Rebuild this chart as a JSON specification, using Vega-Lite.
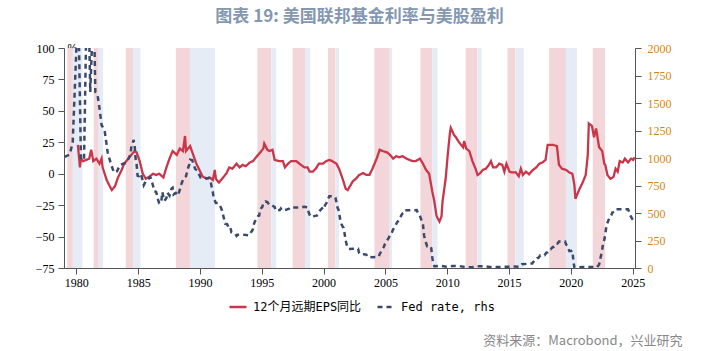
{
 "$schema": "https://vega.github.io/schema/vega-lite/v6.json",
 "width": 571, "height": 220,
 "autosize": {"type": "none"},
 "padding": {"left": 64, "top": 48, "right": 84, "bottom": 83},
 "background": "white",
 "title": {"text": "图表 19: 美国联邦基金利率与美股盈利", "font": "Noto Sans CJK SC", "fontSize": 17, "fontWeight": "bold", "color": "#8497b0", "anchor": "middle", "frame": "group", "dx": 10, "offset": 16},
 "config": {"view": {"stroke": null}, "axis": {"grid": false, "domainColor": "#555", "tickColor": "#555", "labelFont": "Liberation Serif", "labelFontSize": 12, "labelColor": "#000", "tickSize": 6}},
 "datasets": {
  "bands": [
   {"start": "1979-04-08", "end": "1979-09-20", "kind": "hike"},
   {"start": "1979-09-20", "end": "1980-06-28", "kind": "cut"},
   {"start": "1981-05-26", "end": "1981-10-23", "kind": "hike"},
   {"start": "1981-10-23", "end": "1982-03-01", "kind": "cut"},
   {"start": "1984-01-01", "end": "1984-08-04", "kind": "hike"},
   {"start": "1984-08-04", "end": "1985-03-10", "kind": "cut"},
   {"start": "1988-01-20", "end": "1989-03-10", "kind": "hike"},
   {"start": "1989-03-10", "end": "1991-03-18", "kind": "cut"},
   {"start": "1994-08-25", "end": "1995-10-05", "kind": "hike"},
   {"start": "1995-10-05", "end": "1996-03-01", "kind": "cut"},
   {"start": "1997-06-28", "end": "1998-07-08", "kind": "hike"},
   {"start": "1998-07-08", "end": "1998-12-01", "kind": "cut"},
   {"start": "2000-05-10", "end": "2000-12-13", "kind": "hike"},
   {"start": "2000-12-13", "end": "2001-04-01", "kind": "cut"},
   {"start": "2004-02-10", "end": "2005-05-08", "kind": "hike"},
   {"start": "2005-05-08", "end": "2005-07-20", "kind": "cut"},
   {"start": "2007-11-01", "end": "2008-10-15", "kind": "hike"},
   {"start": "2008-10-15", "end": "2009-03-20", "kind": "cut"},
   {"start": "2011-06-28", "end": "2012-06-10", "kind": "hike"},
   {"start": "2012-06-10", "end": "2012-10-15", "kind": "cut"},
   {"start": "2014-11-15", "end": "2015-07-08", "kind": "hike"},
   {"start": "2015-07-08", "end": "2016-03-10", "kind": "cut"},
   {"start": "2018-04-01", "end": "2019-08-08", "kind": "hike"},
   {"start": "2019-08-08", "end": "2020-06-28", "kind": "cut"},
   {"start": "2021-10-08", "end": "2022-10-08", "kind": "hike"}
  ],
  "lines": [
   {"date":"1980-02-15","series":"EPS","value":23},{"date":"1980-04-15","series":"EPS","value":5},{"date":"1980-05-15","series":"EPS","value":12},{"date":"1980-07-15","series":"EPS","value":10},{"date":"1980-10-15","series":"EPS","value":11},{"date":"1981-01-15","series":"EPS","value":12},{"date":"1981-03-15","series":"EPS","value":19},{"date":"1981-05-15","series":"EPS","value":10},{"date":"1981-08-15","series":"EPS","value":12},{"date":"1981-11-15","series":"EPS","value":8},{"date":"1982-01-15","series":"EPS","value":12},{"date":"1982-02-15","series":"EPS","value":5},{"date":"1982-06-15","series":"EPS","value":-5},{"date":"1982-09-15","series":"EPS","value":-10},{"date":"1982-11-15","series":"EPS","value":-13},{"date":"1983-02-15","series":"EPS","value":-10},{"date":"1983-05-15","series":"EPS","value":-3},{"date":"1983-08-15","series":"EPS","value":2},{"date":"1983-11-15","series":"EPS","value":8},{"date":"1984-03-15","series":"EPS","value":12},{"date":"1984-06-15","series":"EPS","value":15},{"date":"1984-09-15","series":"EPS","value":18},{"date":"1984-11-15","series":"EPS","value":17},{"date":"1985-02-15","series":"EPS","value":10},{"date":"1985-05-15","series":"EPS","value":0},{"date":"1985-08-15","series":"EPS","value":-4},{"date":"1985-12-15","series":"EPS","value":-2},{"date":"1986-03-15","series":"EPS","value":0},{"date":"1986-06-15","series":"EPS","value":-1},{"date":"1986-09-15","series":"EPS","value":0},{"date":"1987-01-15","series":"EPS","value":-3},{"date":"1987-04-15","series":"EPS","value":5},{"date":"1987-07-15","series":"EPS","value":12},{"date":"1987-10-15","series":"EPS","value":18},{"date":"1988-02-15","series":"EPS","value":15},{"date":"1988-05-15","series":"EPS","value":20},{"date":"1988-08-15","series":"EPS","value":18},{"date":"1988-10-15","series":"EPS","value":30},{"date":"1988-11-15","series":"EPS","value":18},{"date":"1989-03-15","series":"EPS","value":22},{"date":"1989-06-15","series":"EPS","value":15},{"date":"1989-09-15","series":"EPS","value":8},{"date":"1989-12-15","series":"EPS","value":3},{"date":"1990-03-15","series":"EPS","value":-2},{"date":"1990-07-15","series":"EPS","value":-4},{"date":"1990-10-15","series":"EPS","value":-3},{"date":"1991-01-15","series":"EPS","value":-5},{"date":"1991-03-15","series":"EPS","value":3},{"date":"1991-04-15","series":"EPS","value":-4},{"date":"1991-07-15","series":"EPS","value":-7},{"date":"1991-11-15","series":"EPS","value":-3},{"date":"1992-02-15","series":"EPS","value":0},{"date":"1992-05-15","series":"EPS","value":5},{"date":"1992-08-15","series":"EPS","value":4},{"date":"1992-12-15","series":"EPS","value":8},{"date":"1993-03-15","series":"EPS","value":5},{"date":"1993-06-15","series":"EPS","value":7},{"date":"1993-09-15","series":"EPS","value":6},{"date":"1994-01-15","series":"EPS","value":9},{"date":"1994-04-15","series":"EPS","value":10},{"date":"1994-07-15","series":"EPS","value":13},{"date":"1994-10-15","series":"EPS","value":16},{"date":"1995-02-15","series":"EPS","value":20},{"date":"1995-03-15","series":"EPS","value":24},{"date":"1995-06-15","series":"EPS","value":19},{"date":"1995-08-15","series":"EPS","value":18},{"date":"1995-11-15","series":"EPS","value":19},{"date":"1996-01-15","series":"EPS","value":11},{"date":"1996-06-15","series":"EPS","value":10},{"date":"1996-09-15","series":"EPS","value":10},{"date":"1996-11-15","series":"EPS","value":5},{"date":"1997-02-15","series":"EPS","value":8},{"date":"1997-05-15","series":"EPS","value":10},{"date":"1997-10-15","series":"EPS","value":10},{"date":"1998-01-15","series":"EPS","value":8},{"date":"1998-06-15","series":"EPS","value":5},{"date":"1998-09-15","series":"EPS","value":5},{"date":"1998-11-15","series":"EPS","value":1.6},{"date":"1999-02-15","series":"EPS","value":1.6},{"date":"1999-05-15","series":"EPS","value":4},{"date":"1999-08-15","series":"EPS","value":8},{"date":"1999-12-15","series":"EPS","value":8},{"date":"2000-03-15","series":"EPS","value":10},{"date":"2000-06-15","series":"EPS","value":11},{"date":"2000-09-15","series":"EPS","value":10},{"date":"2001-01-15","series":"EPS","value":8},{"date":"2001-04-15","series":"EPS","value":3},{"date":"2001-07-15","series":"EPS","value":-4},{"date":"2001-10-15","series":"EPS","value":-12},{"date":"2001-12-15","series":"EPS","value":-13},{"date":"2002-02-15","series":"EPS","value":-10},{"date":"2002-05-15","series":"EPS","value":-6},{"date":"2002-08-15","series":"EPS","value":-4},{"date":"2002-11-15","series":"EPS","value":-1},{"date":"2003-03-15","series":"EPS","value":0.5},{"date":"2003-06-15","series":"EPS","value":-1},{"date":"2003-09-15","series":"EPS","value":-1},{"date":"2003-12-15","series":"EPS","value":4},{"date":"2004-04-15","series":"EPS","value":12},{"date":"2004-07-15","series":"EPS","value":19},{"date":"2004-10-15","series":"EPS","value":18},{"date":"2005-02-15","series":"EPS","value":17},{"date":"2005-05-15","series":"EPS","value":15},{"date":"2005-08-15","series":"EPS","value":12},{"date":"2005-11-15","series":"EPS","value":14},{"date":"2006-02-15","series":"EPS","value":13},{"date":"2006-05-15","series":"EPS","value":14},{"date":"2006-09-15","series":"EPS","value":12},{"date":"2006-12-15","series":"EPS","value":11},{"date":"2007-03-15","series":"EPS","value":10},{"date":"2007-06-15","series":"EPS","value":10},{"date":"2007-10-15","series":"EPS","value":12},{"date":"2008-01-15","series":"EPS","value":8},{"date":"2008-04-15","series":"EPS","value":3},{"date":"2008-07-15","series":"EPS","value":0},{"date":"2008-10-15","series":"EPS","value":-14},{"date":"2008-12-15","series":"EPS","value":-22},{"date":"2009-02-15","series":"EPS","value":-33},{"date":"2009-03-15","series":"EPS","value":-35},{"date":"2009-05-15","series":"EPS","value":-38},{"date":"2009-07-15","series":"EPS","value":-34},{"date":"2009-08-15","series":"EPS","value":-22},{"date":"2009-11-15","series":"EPS","value":-4},{"date":"2010-01-15","series":"EPS","value":15},{"date":"2010-03-15","series":"EPS","value":31},{"date":"2010-04-15","series":"EPS","value":36.5},{"date":"2010-06-15","series":"EPS","value":33},{"date":"2010-07-15","series":"EPS","value":31},{"date":"2010-09-15","series":"EPS","value":29},{"date":"2010-12-15","series":"EPS","value":25},{"date":"2011-04-15","series":"EPS","value":21},{"date":"2011-05-15","series":"EPS","value":26},{"date":"2011-07-15","series":"EPS","value":20},{"date":"2011-10-15","series":"EPS","value":18},{"date":"2012-01-15","series":"EPS","value":10},{"date":"2012-04-15","series":"EPS","value":4},{"date":"2012-06-15","series":"EPS","value":-1},{"date":"2012-08-15","series":"EPS","value":0},{"date":"2012-11-15","series":"EPS","value":3},{"date":"2013-02-15","series":"EPS","value":4},{"date":"2013-05-15","series":"EPS","value":7},{"date":"2013-07-15","series":"EPS","value":10},{"date":"2013-09-15","series":"EPS","value":5},{"date":"2013-12-15","series":"EPS","value":5},{"date":"2014-03-15","series":"EPS","value":8},{"date":"2014-06-15","series":"EPS","value":7},{"date":"2014-08-15","series":"EPS","value":1.6},{"date":"2014-10-15","series":"EPS","value":8},{"date":"2015-01-15","series":"EPS","value":1.6},{"date":"2015-04-15","series":"EPS","value":1},{"date":"2015-07-15","series":"EPS","value":1.2},{"date":"2015-10-15","series":"EPS","value":-2},{"date":"2015-12-15","series":"EPS","value":4},{"date":"2016-02-15","series":"EPS","value":-1},{"date":"2016-05-15","series":"EPS","value":1.6},{"date":"2016-08-15","series":"EPS","value":-0.5},{"date":"2016-11-15","series":"EPS","value":2.5},{"date":"2017-03-15","series":"EPS","value":5},{"date":"2017-06-15","series":"EPS","value":8},{"date":"2017-09-15","series":"EPS","value":9},{"date":"2017-12-15","series":"EPS","value":11},{"date":"2018-02-15","series":"EPS","value":23},{"date":"2018-07-15","series":"EPS","value":23},{"date":"2018-11-15","series":"EPS","value":22},{"date":"2019-01-15","series":"EPS","value":7},{"date":"2019-04-15","series":"EPS","value":4},{"date":"2019-08-15","series":"EPS","value":3},{"date":"2019-11-15","series":"EPS","value":1},{"date":"2020-02-15","series":"EPS","value":0},{"date":"2020-04-15","series":"EPS","value":-9},{"date":"2020-05-15","series":"EPS","value":-20},{"date":"2020-07-15","series":"EPS","value":-16},{"date":"2020-09-15","series":"EPS","value":-12},{"date":"2020-12-15","series":"EPS","value":-7},{"date":"2021-03-15","series":"EPS","value":-1},{"date":"2021-05-15","series":"EPS","value":15},{"date":"2021-06-15","series":"EPS","value":40},{"date":"2021-09-15","series":"EPS","value":38},{"date":"2021-11-15","series":"EPS","value":29},{"date":"2022-01-15","series":"EPS","value":36},{"date":"2022-04-15","series":"EPS","value":21},{"date":"2022-07-15","series":"EPS","value":18},{"date":"2022-09-15","series":"EPS","value":8},{"date":"2022-10-15","series":"EPS","value":7},{"date":"2022-12-15","series":"EPS","value":-1},{"date":"2023-03-15","series":"EPS","value":-4},{"date":"2023-06-15","series":"EPS","value":-2.5},{"date":"2023-08-15","series":"EPS","value":4},{"date":"2023-10-15","series":"EPS","value":1.6},{"date":"2023-12-15","series":"EPS","value":10},{"date":"2024-03-15","series":"EPS","value":9},{"date":"2024-05-15","series":"EPS","value":12},{"date":"2024-08-15","series":"EPS","value":9},{"date":"2024-11-15","series":"EPS","value":12},{"date":"2025-01-15","series":"EPS","value":11},{"date":"2025-03-01","series":"EPS","value":13},
   {"date":"1979-01-15","series":"Fed","value":1010},{"date":"1979-06-15","series":"Fed","value":1030},{"date":"1979-09-15","series":"Fed","value":1140},{"date":"1980-01-15","series":"Fed","value":2100},{"date":"1980-03-15","series":"Fed","value":2100},{"date":"1980-05-15","series":"Fed","value":1000},{"date":"1980-08-15","series":"Fed","value":980},{"date":"1980-10-15","series":"Fed","value":2100},{"date":"1981-01-15","series":"Fed","value":2100},{"date":"1981-02-15","series":"Fed","value":1600},{"date":"1981-04-15","series":"Fed","value":2100},{"date":"1981-06-15","series":"Fed","value":2100},{"date":"1981-07-15","series":"Fed","value":1600},{"date":"1981-09-15","series":"Fed","value":1580},{"date":"1981-11-15","series":"Fed","value":1450},{"date":"1982-01-15","series":"Fed","value":1300},{"date":"1982-04-15","series":"Fed","value":1250},{"date":"1982-07-15","series":"Fed","value":1050},{"date":"1982-10-15","series":"Fed","value":950},{"date":"1983-01-15","series":"Fed","value":868},{"date":"1983-04-15","series":"Fed","value":880},{"date":"1983-07-15","series":"Fed","value":937},{"date":"1983-10-15","series":"Fed","value":948},{"date":"1984-01-15","series":"Fed","value":956},{"date":"1984-03-15","series":"Fed","value":991},{"date":"1984-05-15","series":"Fed","value":1032},{"date":"1984-06-15","series":"Fed","value":1106},{"date":"1984-07-15","series":"Fed","value":1123},{"date":"1984-08-15","series":"Fed","value":1164},{"date":"1984-09-15","series":"Fed","value":1130},{"date":"1984-10-15","series":"Fed","value":999},{"date":"1984-11-15","series":"Fed","value":943},{"date":"1984-12-15","series":"Fed","value":838},{"date":"1985-01-15","series":"Fed","value":835},{"date":"1985-03-15","series":"Fed","value":858},{"date":"1985-05-15","series":"Fed","value":797},{"date":"1985-06-15","series":"Fed","value":753},{"date":"1985-08-15","series":"Fed","value":790},{"date":"1985-10-15","series":"Fed","value":799},{"date":"1985-12-15","series":"Fed","value":827},{"date":"1986-01-15","series":"Fed","value":814},{"date":"1986-03-15","series":"Fed","value":748},{"date":"1986-04-15","series":"Fed","value":699},{"date":"1986-06-15","series":"Fed","value":692},{"date":"1986-07-15","series":"Fed","value":656},{"date":"1986-08-15","series":"Fed","value":617},{"date":"1986-09-15","series":"Fed","value":589},{"date":"1986-10-15","series":"Fed","value":585},{"date":"1986-11-15","series":"Fed","value":604},{"date":"1986-12-15","series":"Fed","value":691},{"date":"1987-01-15","series":"Fed","value":643},{"date":"1987-02-15","series":"Fed","value":610},{"date":"1987-04-15","series":"Fed","value":637},{"date":"1987-05-15","series":"Fed","value":685},{"date":"1987-07-15","series":"Fed","value":658},{"date":"1987-09-15","series":"Fed","value":722},{"date":"1987-10-15","series":"Fed","value":729},{"date":"1987-11-15","series":"Fed","value":669},{"date":"1987-12-15","series":"Fed","value":677},{"date":"1988-01-15","series":"Fed","value":683},{"date":"1988-03-15","series":"Fed","value":658},{"date":"1988-05-15","series":"Fed","value":709},{"date":"1988-06-15","series":"Fed","value":751},{"date":"1988-07-15","series":"Fed","value":775},{"date":"1988-08-15","series":"Fed","value":801},{"date":"1988-09-15","series":"Fed","value":819},{"date":"1988-11-15","series":"Fed","value":835},{"date":"1988-12-15","series":"Fed","value":876},{"date":"1989-01-15","series":"Fed","value":912},{"date":"1989-02-15","series":"Fed","value":936},{"date":"1989-03-15","series":"Fed","value":985},{"date":"1989-05-15","series":"Fed","value":981},{"date":"1989-06-15","series":"Fed","value":953},{"date":"1989-07-15","series":"Fed","value":924},{"date":"1989-08-15","series":"Fed","value":899},{"date":"1989-10-15","series":"Fed","value":884},{"date":"1989-11-15","series":"Fed","value":855},{"date":"1989-12-15","series":"Fed","value":845},{"date":"1990-01-15","series":"Fed","value":823},{"date":"1990-04-15","series":"Fed","value":826},{"date":"1990-07-15","series":"Fed","value":815},{"date":"1990-09-15","series":"Fed","value":820},{"date":"1990-10-15","series":"Fed","value":811},{"date":"1990-11-15","series":"Fed","value":781},{"date":"1990-12-15","series":"Fed","value":731},{"date":"1991-01-15","series":"Fed","value":691},{"date":"1991-02-15","series":"Fed","value":625},{"date":"1991-03-15","series":"Fed","value":612},{"date":"1991-04-15","series":"Fed","value":591},{"date":"1991-06-15","series":"Fed","value":590},{"date":"1991-08-15","series":"Fed","value":566},{"date":"1991-09-15","series":"Fed","value":545},{"date":"1991-10-15","series":"Fed","value":521},{"date":"1991-11-15","series":"Fed","value":481},{"date":"1991-12-15","series":"Fed","value":443},{"date":"1992-01-15","series":"Fed","value":403},{"date":"1992-03-15","series":"Fed","value":398},{"date":"1992-04-15","series":"Fed","value":373},{"date":"1992-06-15","series":"Fed","value":376},{"date":"1992-07-15","series":"Fed","value":325},{"date":"1992-09-15","series":"Fed","value":322},{"date":"1992-11-15","series":"Fed","value":309},{"date":"1992-12-15","series":"Fed","value":292},{"date":"1993-01-15","series":"Fed","value":302},{"date":"1993-06-15","series":"Fed","value":304},{"date":"1993-12-15","series":"Fed","value":296},{"date":"1994-01-15","series":"Fed","value":305},{"date":"1994-02-15","series":"Fed","value":325},{"date":"1994-03-15","series":"Fed","value":334},{"date":"1994-04-15","series":"Fed","value":356},{"date":"1994-05-15","series":"Fed","value":401},{"date":"1994-06-15","series":"Fed","value":425},{"date":"1994-08-15","series":"Fed","value":447},{"date":"1994-09-15","series":"Fed","value":473},{"date":"1994-10-15","series":"Fed","value":476},{"date":"1994-11-15","series":"Fed","value":529},{"date":"1994-12-15","series":"Fed","value":545},{"date":"1995-01-15","series":"Fed","value":553},{"date":"1995-02-15","series":"Fed","value":592},{"date":"1995-04-15","series":"Fed","value":605},{"date":"1995-06-15","series":"Fed","value":600},{"date":"1995-07-15","series":"Fed","value":585},{"date":"1995-08-15","series":"Fed","value":574},{"date":"1995-10-15","series":"Fed","value":576},{"date":"1995-12-15","series":"Fed","value":560},{"date":"1996-01-15","series":"Fed","value":556},{"date":"1996-02-15","series":"Fed","value":522},{"date":"1996-06-15","series":"Fed","value":527},{"date":"1996-07-15","series":"Fed","value":540},{"date":"1996-08-15","series":"Fed","value":522},{"date":"1996-12-15","series":"Fed","value":529},{"date":"1997-03-15","series":"Fed","value":539},{"date":"1997-04-15","series":"Fed","value":551},{"date":"1997-12-15","series":"Fed","value":550},{"date":"1998-06-15","series":"Fed","value":556},{"date":"1998-09-15","series":"Fed","value":551},{"date":"1998-10-15","series":"Fed","value":507},{"date":"1998-11-15","series":"Fed","value":483},{"date":"1998-12-15","series":"Fed","value":468},{"date":"1999-01-15","series":"Fed","value":463},{"date":"1999-04-15","series":"Fed","value":474},{"date":"1999-06-15","series":"Fed","value":476},{"date":"1999-07-15","series":"Fed","value":499},{"date":"1999-08-15","series":"Fed","value":507},{"date":"1999-09-15","series":"Fed","value":522},{"date":"1999-11-15","series":"Fed","value":542},{"date":"1999-12-15","series":"Fed","value":530},{"date":"2000-01-15","series":"Fed","value":545},{"date":"2000-02-15","series":"Fed","value":573},{"date":"2000-03-15","series":"Fed","value":585},{"date":"2000-04-15","series":"Fed","value":602},{"date":"2000-05-15","series":"Fed","value":627},{"date":"2000-06-15","series":"Fed","value":653},{"date":"2000-09-15","series":"Fed","value":652},{"date":"2000-11-15","series":"Fed","value":651},{"date":"2000-12-15","series":"Fed","value":640},{"date":"2001-01-15","series":"Fed","value":598},{"date":"2001-02-15","series":"Fed","value":549},{"date":"2001-03-15","series":"Fed","value":531},{"date":"2001-04-15","series":"Fed","value":480},{"date":"2001-05-15","series":"Fed","value":421},{"date":"2001-06-15","series":"Fed","value":397},{"date":"2001-07-15","series":"Fed","value":377},{"date":"2001-08-15","series":"Fed","value":365},{"date":"2001-09-15","series":"Fed","value":307},{"date":"2001-10-15","series":"Fed","value":249},{"date":"2001-11-15","series":"Fed","value":209},{"date":"2001-12-15","series":"Fed","value":182},{"date":"2002-01-15","series":"Fed","value":173},{"date":"2002-06-15","series":"Fed","value":175},{"date":"2002-10-15","series":"Fed","value":175},{"date":"2002-11-15","series":"Fed","value":134},{"date":"2002-12-15","series":"Fed","value":124},{"date":"2003-03-15","series":"Fed","value":125},{"date":"2003-06-15","series":"Fed","value":122},{"date":"2003-07-15","series":"Fed","value":101},{"date":"2003-12-15","series":"Fed","value":98},{"date":"2004-05-15","series":"Fed","value":100},{"date":"2004-06-15","series":"Fed","value":103},{"date":"2004-07-15","series":"Fed","value":126},{"date":"2004-08-15","series":"Fed","value":143},{"date":"2004-09-15","series":"Fed","value":161},{"date":"2004-10-15","series":"Fed","value":176},{"date":"2004-11-15","series":"Fed","value":193},{"date":"2004-12-15","series":"Fed","value":216},{"date":"2005-01-15","series":"Fed","value":228},{"date":"2005-02-15","series":"Fed","value":250},{"date":"2005-03-15","series":"Fed","value":263},{"date":"2005-04-15","series":"Fed","value":279},{"date":"2005-05-15","series":"Fed","value":300},{"date":"2005-06-15","series":"Fed","value":304},{"date":"2005-07-15","series":"Fed","value":326},{"date":"2005-08-15","series":"Fed","value":350},{"date":"2005-09-15","series":"Fed","value":362},{"date":"2005-10-15","series":"Fed","value":378},{"date":"2005-11-15","series":"Fed","value":400},{"date":"2005-12-15","series":"Fed","value":416},{"date":"2006-01-15","series":"Fed","value":429},{"date":"2006-02-15","series":"Fed","value":449},{"date":"2006-03-15","series":"Fed","value":459},{"date":"2006-04-15","series":"Fed","value":479},{"date":"2006-05-15","series":"Fed","value":494},{"date":"2006-06-15","series":"Fed","value":499},{"date":"2006-07-15","series":"Fed","value":524},{"date":"2006-12-15","series":"Fed","value":524},{"date":"2007-07-15","series":"Fed","value":526},{"date":"2007-08-15","series":"Fed","value":502},{"date":"2007-09-15","series":"Fed","value":494},{"date":"2007-10-15","series":"Fed","value":476},{"date":"2007-11-15","series":"Fed","value":449},{"date":"2007-12-15","series":"Fed","value":424},{"date":"2008-01-15","series":"Fed","value":394},{"date":"2008-02-15","series":"Fed","value":298},{"date":"2008-03-15","series":"Fed","value":261},{"date":"2008-04-15","series":"Fed","value":228},{"date":"2008-05-15","series":"Fed","value":198},{"date":"2008-08-15","series":"Fed","value":200},{"date":"2008-09-15","series":"Fed","value":181},{"date":"2008-10-15","series":"Fed","value":97},{"date":"2008-11-15","series":"Fed","value":39},{"date":"2008-12-15","series":"Fed","value":16},{"date":"2009-01-15","series":"Fed","value":15},{"date":"2009-06-15","series":"Fed","value":21},{"date":"2009-12-15","series":"Fed","value":12},{"date":"2010-06-15","series":"Fed","value":18},{"date":"2010-12-15","series":"Fed","value":18},{"date":"2011-06-15","series":"Fed","value":9},{"date":"2011-12-15","series":"Fed","value":7},{"date":"2012-06-15","series":"Fed","value":16},{"date":"2012-12-15","series":"Fed","value":16},{"date":"2013-06-15","series":"Fed","value":9},{"date":"2013-12-15","series":"Fed","value":9},{"date":"2014-06-15","series":"Fed","value":10},{"date":"2014-12-15","series":"Fed","value":12},{"date":"2015-06-15","series":"Fed","value":13},{"date":"2015-11-15","series":"Fed","value":12},{"date":"2015-12-15","series":"Fed","value":24},{"date":"2016-01-15","series":"Fed","value":34},{"date":"2016-06-15","series":"Fed","value":38},{"date":"2016-11-15","series":"Fed","value":41},{"date":"2016-12-15","series":"Fed","value":54},{"date":"2017-01-15","series":"Fed","value":65},{"date":"2017-02-15","series":"Fed","value":66},{"date":"2017-03-15","series":"Fed","value":79},{"date":"2017-04-15","series":"Fed","value":90},{"date":"2017-05-15","series":"Fed","value":91},{"date":"2017-06-15","series":"Fed","value":104},{"date":"2017-07-15","series":"Fed","value":115},{"date":"2017-11-15","series":"Fed","value":116},{"date":"2017-12-15","series":"Fed","value":130},{"date":"2018-01-15","series":"Fed","value":141},{"date":"2018-02-15","series":"Fed","value":142},{"date":"2018-03-15","series":"Fed","value":151},{"date":"2018-04-15","series":"Fed","value":169},{"date":"2018-05-15","series":"Fed","value":170},{"date":"2018-06-15","series":"Fed","value":182},{"date":"2018-07-15","series":"Fed","value":191},{"date":"2018-08-15","series":"Fed","value":191},{"date":"2018-09-15","series":"Fed","value":195},{"date":"2018-10-15","series":"Fed","value":219},{"date":"2018-11-15","series":"Fed","value":220},{"date":"2018-12-15","series":"Fed","value":227},{"date":"2019-01-15","series":"Fed","value":240},{"date":"2019-07-15","series":"Fed","value":240},{"date":"2019-08-15","series":"Fed","value":213},{"date":"2019-09-15","series":"Fed","value":204},{"date":"2019-10-15","series":"Fed","value":183},{"date":"2019-11-15","series":"Fed","value":155},{"date":"2019-12-15","series":"Fed","value":155},{"date":"2020-01-15","series":"Fed","value":155},{"date":"2020-02-15","series":"Fed","value":158},{"date":"2020-03-15","series":"Fed","value":65},{"date":"2020-04-15","series":"Fed","value":5},{"date":"2020-12-15","series":"Fed","value":9},{"date":"2021-06-15","series":"Fed","value":8},{"date":"2021-12-15","series":"Fed","value":8},{"date":"2022-02-15","series":"Fed","value":8},{"date":"2022-03-15","series":"Fed","value":20},{"date":"2022-04-15","series":"Fed","value":33},{"date":"2022-05-15","series":"Fed","value":77},{"date":"2022-06-15","series":"Fed","value":121},{"date":"2022-07-15","series":"Fed","value":168},{"date":"2022-08-15","series":"Fed","value":233},{"date":"2022-09-15","series":"Fed","value":256},{"date":"2022-10-15","series":"Fed","value":308},{"date":"2022-11-15","series":"Fed","value":378},{"date":"2022-12-15","series":"Fed","value":410},{"date":"2023-01-15","series":"Fed","value":433},{"date":"2023-02-15","series":"Fed","value":457},{"date":"2023-03-15","series":"Fed","value":465},{"date":"2023-04-15","series":"Fed","value":483},{"date":"2023-05-15","series":"Fed","value":506},{"date":"2023-06-15","series":"Fed","value":508},{"date":"2023-07-15","series":"Fed","value":512},{"date":"2023-08-15","series":"Fed","value":533},{"date":"2024-08-15","series":"Fed","value":533},{"date":"2024-09-15","series":"Fed","value":513},{"date":"2024-10-15","series":"Fed","value":483},{"date":"2024-11-15","series":"Fed","value":464},{"date":"2024-12-15","series":"Fed","value":448},{"date":"2025-01-15","series":"Fed","value":433},{"date":"2025-02-15","series":"Fed","value":433},{"date":"2025-03-01","series":"Fed","value":430}
  ]
 },
 "layer": [
  {
   "data": {"name": "bands"},
   "mark": {"type": "rect"},
   "encoding": {
    "x": {"field": "start", "type": "temporal",
      "scale": {"type": "utc", "domain": [{"year": 1979, "month": 1, "date": 1, "utc": true}, {"year": 2025, "month": 3, "date": 10, "utc": true}]},
      "axis": {"values": [{"year":1980,"utc":true},{"year":1985,"utc":true},{"year":1990,"utc":true},{"year":1995,"utc":true},{"year":2000,"utc":true},{"year":2005,"utc":true},{"year":2010,"utc":true},{"year":2015,"utc":true},{"year":2020,"utc":true},{"year":2025,"utc":true}],
        "format": "%Y", "labelPadding": 3, "labelFlush": false, "labelFont": "Liberation Serif", "labelFontSize": 12,
        "title": "资料来源：Macrobond，兴业研究", "titleFont": "Noto Sans CJK SC", "titleFontSize": 13, "titleFontWeight": "normal", "titleColor": "#888888", "titleX": 618, "titleY": 72, "titleAlign": "right", "titleBaseline": "middle"}},
    "x2": {"field": "end"},
    "fill": {"field": "kind", "type": "nominal", "scale": {"domain": ["hike", "cut"], "range": ["#f3d6d9", "#e5ecf5"]}, "legend": null}
   }
  },
  {
   "data": {"name": "lines"},
   "transform": [{"filter": "datum.series == 'EPS'"}],
   "mark": {"type": "line", "strokeWidth": 2.3, "clip": true},
   "encoding": {
    "x": {"field": "date", "type": "temporal", "title": "资料来源：Macrobond，兴业研究"},
    "y": {"field": "value", "type": "quantitative", "scale": {"domain": [-75, 100], "nice": false, "zero": false},
      "axis": {"orient": "left", "values": [-75, -50, -25, 0, 25, 50, 75, 100], "format": "d", "labelPadding": 4, "labelFont": "Liberation Serif", "labelFontSize": 12,
        "title": "%", "titleAngle": 0, "titleX": 3, "titleY": 0, "titleAlign": "left", "titleBaseline": "middle", "titleFont": "Liberation Sans", "titleFontSize": 11, "titleFontWeight": "normal", "titleColor": "#000"}},
    "stroke": {"field": "series", "type": "nominal", "scale": {"domain": ["EPS", "Fed"], "range": ["#c9364a", "#3b4a6b"]},
      "legend": {"orient": "none", "legendX": 164, "legendY": 249, "direction": "horizontal", "title": null, "symbolType": "stroke", "symbolSize": 289, "symbolStrokeWidth": 2.5, "labelFont": "DejaVu Sans Mono, Noto Sans CJK SC", "labelFontSize": 12, "labelColor": "#000", "labelOffset": 5, "columnPadding": 10,
        "labelExpr": "datum.label == 'EPS' ? '12个月远期EPS同比' : 'Fed rate, rhs'"}},
    "strokeDash": {"field": "series", "type": "nominal", "scale": {"domain": ["EPS", "Fed"], "range": [[1, 0], [5, 4]]},
      "legend": {"orient": "none", "legendX": 164, "legendY": 249, "direction": "horizontal", "title": null, "symbolType": "stroke", "symbolSize": 289, "symbolStrokeWidth": 2.5, "labelFont": "DejaVu Sans Mono, Noto Sans CJK SC", "labelFontSize": 12, "labelColor": "#000", "labelOffset": 5, "columnPadding": 10,
        "labelExpr": "datum.label == 'EPS' ? '12个月远期EPS同比' : 'Fed rate, rhs'"}}
   }
  },
  {
   "data": {"name": "lines"},
   "transform": [{"filter": "datum.series == 'Fed'"}],
   "mark": {"type": "line", "strokeWidth": 2.5, "clip": true},
   "encoding": {
    "x": {"field": "date", "type": "temporal", "title": "资料来源：Macrobond，兴业研究"},
    "y": {"field": "value", "type": "quantitative", "scale": {"domain": [0, 2000], "nice": false},
      "axis": {"orient": "right", "values": [0, 250, 500, 750, 1000, 1250, 1500, 1750, 2000], "format": "d", "labelPadding": 6, "labelColor": "#d98410", "labelFont": "Liberation Serif", "labelFontSize": 12, "title": null}},
    "stroke": {"field": "series", "type": "nominal"},
    "strokeDash": {"field": "series", "type": "nominal"}
   }
  }
 ],
 "resolve": {"scale": {"y": "independent"}}
}
